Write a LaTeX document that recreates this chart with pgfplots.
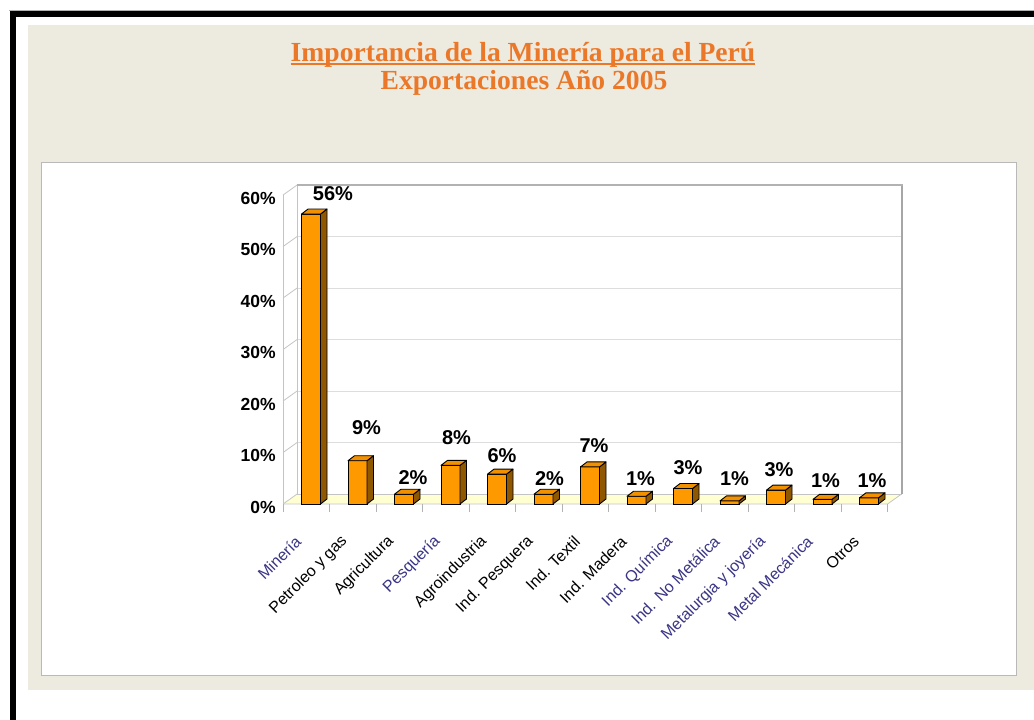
\documentclass[border=0pt]{standalone}
\usepackage{pgfplots}
\pgfplotsset{compat=1.18}
\usepackage{pgfplotstable}
\usepackage{fontspec}
\setmainfont{Liberation Sans}
\newfontfamily\titlefont{Liberation Serif}

\definecolor{beige}{HTML}{EDEAE0}
\definecolor{ttl}{RGB}{235,120,40}
\definecolor{barfront}{HTML}{FF9900}
\definecolor{bartop}{HTML}{F29100}
\definecolor{barside}{HTML}{8F5800}
\definecolor{floorc}{HTML}{FFFFD2}
\definecolor{gridc}{HTML}{DDDDDD}
\definecolor{wallc}{HTML}{C4C4C4}
\definecolor{labblue}{HTML}{3A3585}

\pgfplotstableread{
i v lab dx dy
0 56.3 56 22 20
1 8.4 9 9 33
2 1.9 2 9 17
3 7.5 8 6 28
4 5.8 6 5 19
5 1.9 2 6 16
6 7.2 7 4 21
7 1.5 1 4 18
8 3.0 3 5 21
9 0.6 1 5 22
10 2.7 3 3 20
11 0.9 1 3 19
12 1.2 1 3 17
}\datatable

\begin{document}
\begin{tikzpicture}[x=1pt,y=1pt]
\useasboundingbox (0,0) rectangle (1034,720);
\fill[white] (0,0) rectangle (1034,720);
% page frame
\fill[beige] (28,30) rectangle (1034,695);
\draw[black, line width=6.5pt] (13,-5) -- (13,706.5) -- (1040,706.5);
\draw[gray!60, line width=0.8pt] (9,710) -- (1040,710);
% inner white box
\draw[fill=white, draw=gray!55, line width=0.9pt] (41,45) rectangle (1016,558);
% titles
\node[font=\titlefont\bfseries\fontsize{27.6}{31}\selectfont, text=ttl, inner sep=0pt] (t1) at (523,665.5) {Importancia de la Minería para el Perú};
\draw[ttl, line width=1.8pt] ([yshift=-3pt]t1.base west) -- ([yshift=-3pt]t1.base east);
\node[font=\titlefont\bfseries\fontsize{27.6}{31}\selectfont, text=ttl, inner sep=0pt] at (524,637.5) {Exportaciones Año 2005};
% 3D walls
\fill[floorc] (283.1,216) -- (887.6,216) -- (901.6,226) -- (297.1,226) -- cycle;
\draw[wallc, line width=0.8pt] (283.1,216) -- (887.6,216) -- (901.6,226);
\draw[fill=white, draw=wallc, line width=0.8pt] (297.1,226) rectangle (901.6,535);
\foreach \k in {1,...,5} {
  \draw[gridc, line width=0.8pt] (297.1,226+51.5*\k) -- (901.6,226+51.5*\k);
}
\foreach \k in {0,...,6} {
  \draw[wallc, line width=0.8pt] (283.1,216+51.5*\k) -- (297.1,226+51.5*\k);
}
\draw[wallc, line width=0.8pt] (283.1,216) -- (283.1,525);
\draw[wallc, line width=0.8pt] (297.1,226) -- (297.1,535);
\draw[gray!70, line width=2pt] (901.6,226) -- (901.6,536);
\draw[gray!60, line width=1.5pt] (297.1,535) -- (902.6,535);

\begin{axis}[
  at={(283.1pt,216pt)}, anchor=south west,
  scale only axis,
  x=46.5pt, y=5.15pt,
  xmin=-0.6, xmax=12.4, ymin=0, ymax=60,
  axis line style={draw=none},
  tick pos=left,
  ytick={0,10,...,60},
  yticklabel={\pgfmathprintnumber{\tick}\%},
  /pgf/number format/assume math mode=true,
  yticklabel style={font=\bfseries\fontsize{17.5}{20}\selectfont, anchor=east, xshift=-4pt, yshift=-3pt},
  ytick style={draw=none},
  xtick={0,...,12},
  xticklabels={\textcolor{labblue}{Minería}, Petroleo y gas, Agricultura, \textcolor{labblue}{Pesquería}, Agroindustria, Ind. Pesquera, Ind. Textil, Ind. Madera, \textcolor{labblue}{Ind. Química}, \textcolor{labblue}{Ind. No Metálica}, \textcolor{labblue}{Metalurgia y joyería}, \textcolor{labblue}{Metal Mecánica}, Otros},
  xticklabel style={font=\fontsize{16}{19}\selectfont, anchor=east, xshift=-12pt, yshift=-34pt, rotate=45, inner sep=1pt},
  xtick style={draw=none},
  extra x ticks={-0.6,0.4,1.4,2.4,3.4,4.4,5.4,6.4,7.4,8.4,9.4,10.4,11.4,12.4},
  extra x tick labels={},
  extra x tick style={xtick style={draw=gray!60, line width=0.8pt}, major tick length=8pt, tick align=outside},
  clip=false,
]
% top and side faces of the 3D bars
\addplot[scatter, only marks, mark=square*, mark size=0.01pt,
  visualization depends on={\thisrow{v} \as \rawy},
  scatter/@pre marker code/.code={%
    \pgfmathsetmacro\hh{\rawy*5.15}%
    \pgfmathsetmacro\hb{5-\rawy*5.15}%
    \filldraw[fill=barside, draw=black, line width=0.9pt, line join=round] (9.5pt,0pt) -- (16pt,5pt) -- (16pt,\hb pt) -- (9.5pt,-\hh pt) -- cycle;
    \filldraw[fill=bartop, draw=black, line width=0.9pt, line join=round] (-9.5pt,0pt) -- (9.5pt,0pt) -- (16pt,5pt) -- (-3pt,5pt) -- cycle;
    \pgfscope\pgfsetstrokeopacity{0}\pgfsetfillopacity{0}},
  scatter/@post marker code/.code={\endpgfscope},
] table[x=i, y=v] {\datatable};
% front faces with value labels
\addplot[ybar, bar width=19pt, bar shift=0pt, fill=barfront, draw=black, line width=0.9pt,
  point meta=explicit symbolic,
  nodes near coords={\pgfplotspointmeta\%},
  visualization depends on={\thisrow{dx} \as \ldx},
  visualization depends on={\thisrow{dy} \as \ldy},
  every node near coord/.append style={font=\bfseries\fontsize{20}{22}\selectfont, text=black, anchor=center, xshift=\ldx pt, yshift=\ldy pt},
] table[x=i, y=v, meta=lab] {\datatable};
\end{axis}
\end{tikzpicture}
\end{document}
